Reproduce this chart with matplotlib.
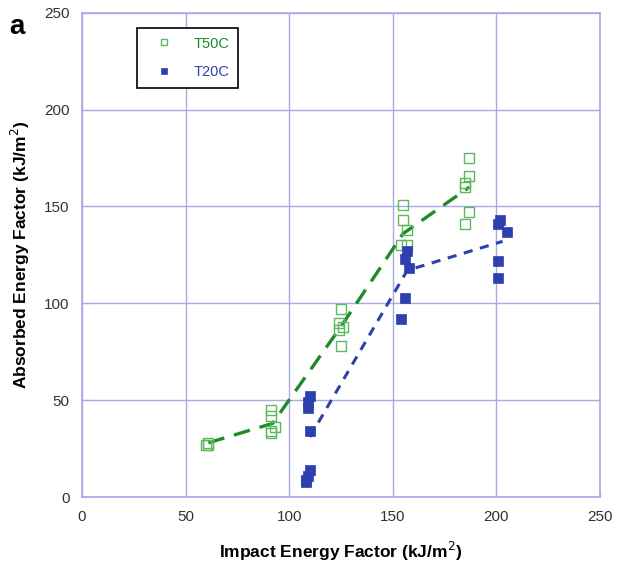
import matplotlib
matplotlib.use("Agg")
import matplotlib.pyplot as plt

plt.rcParams['font.family'] = ['Liberation Sans', 'DejaVu Sans']

# T50C (open squares)
t50_x = [60, 61, 61, 91, 91, 93, 91, 91, 125, 124, 126, 124, 125,
         155, 155, 157, 154, 157, 187, 187, 185, 185, 187, 185]
t50_y = [27, 28, 27, 45, 42, 36, 34, 33, 97, 90, 88, 86, 78,
         151, 143, 138, 130, 130, 175, 166, 162, 160, 147, 141]
t50_fit_x = [61, 92, 125, 155, 187]
t50_fit_y = [28, 38, 88, 136, 160]

# T20C (filled squares)
t20_x = [110, 109, 109, 110, 110, 109, 108, 108,
         157, 156, 158, 156, 154, 202, 201, 205, 201, 201]
t20_y = [52, 49, 46, 34, 14, 11, 9, 8,
         127, 123, 118, 103, 92, 143, 141, 137, 122, 113]
t20_fit_x = [110, 157, 203]
t20_fit_y = [31, 117, 132]

grid_col = "#a9a9e6"
green_pt = "#5cb85c"
green_ln = "#1f8a2a"
blue = "#2e3fae"

fig = plt.figure(figsize=(6.18, 5.69), dpi=100)
ax = fig.add_axes([0.1327, 0.1265, 0.838, 0.851])

ax.plot(t50_fit_x, t50_fit_y, color=green_ln, lw=2.4, dashes=(5, 3), zorder=2)
ax.plot(t20_fit_x, t20_fit_y, color=blue, lw=2.2, dashes=(3, 2.5), zorder=2)
ax.plot(t50_x, t50_y, "s", ms=6.5, mfc="none", mec=green_pt, mew=1.0,
        label="T50C", zorder=3)
ax.plot(t20_x, t20_y, "s", ms=6.5, mfc=blue, mec=blue, mew=0.5,
        label="T20C", zorder=3)

ax.set_xlim(0, 250)
ax.set_ylim(0, 250)
ax.set_xticks([0, 50, 100, 150, 200, 250])
ax.set_yticks([0, 50, 100, 150, 200, 250])
ax.grid(True, color=grid_col, lw=1.0)
ax.set_axisbelow(True)
for s in ax.spines.values():
    s.set_color(grid_col)
    s.set_linewidth(1.2)
ax.tick_params(direction="in", length=4, color=grid_col, labelsize=11,
               labelcolor="#333333", pad=9)

ax.set_xlabel("Impact Energy Factor (kJ/m$^2$)", fontsize=12.5,
              fontweight="bold", labelpad=12)
ax.set_ylabel("Absorbed Energy Factor (kJ/m$^2$)", fontsize=12.5,
              fontweight="bold", labelpad=9)

leg = ax.legend(loc="upper left", bbox_to_anchor=(0.106, 0.969),
                borderaxespad=0, fancybox=False, edgecolor="black",
                framealpha=1, markerscale=0.75, handlelength=2.5,
                handletextpad=0.8, borderpad=0.6, labelspacing=1.0,
                fontsize=10.5)
leg.get_frame().set_linewidth(1.2)
for txt, c in zip(leg.get_texts(), [green_ln, blue]):
    txt.set_color(c)

fig.text(0.015, 0.975, "a", fontsize=20, fontweight="bold", va="top")

fig.savefig("out.png", dpi=100)
